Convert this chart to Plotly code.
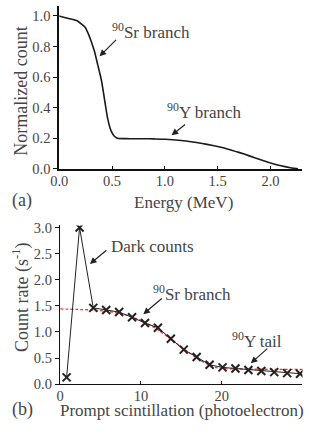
import plotly.graph_objects as go

# ---- Panel (a): beta spectrum ----
energy_mev = [0.0, 0.05, 0.11, 0.17, 0.21, 0.245, 0.275, 0.305, 0.335, 0.365, 0.40, 0.43,
              0.46, 0.49, 0.52, 0.55, 0.63, 0.7, 0.8, 0.9, 1.0, 1.1, 1.2, 1.3, 1.4, 1.5,
              1.6, 1.7, 1.8, 1.9, 2.0, 2.1, 2.2, 2.26]
normalized_count = [1.0, 0.99, 0.98, 0.968, 0.947, 0.926, 0.884, 0.83, 0.766, 0.68, 0.578, 0.45,
                    0.325, 0.25, 0.215, 0.2, 0.198, 0.197, 0.197, 0.196, 0.194, 0.189, 0.182,
                    0.172, 0.16, 0.146, 0.129, 0.108, 0.085, 0.061, 0.039, 0.02, 0.006, 0.0]

# ---- Panel (b): measured count rate ----
pe_bins = [0.8, 2.4, 4.1, 5.7, 7.3, 8.9, 10.5, 12.1, 13.7, 15.3, 16.9, 18.5, 20.1,
           21.7, 23.3, 24.9, 26.5, 28.1, 29.7]
count_rate = [0.13, 3.0, 1.46, 1.42, 1.38, 1.28, 1.17, 1.08, 0.87, 0.66, 0.52, 0.37, 0.32,
              0.30, 0.27, 0.25, 0.23, 0.21, 0.20]

fit_pe = [0, 2, 4, 6, 8, 10, 11, 12, 13, 14, 15, 16, 17, 18, 19, 20, 22, 25, 30]
fit_rate = [1.44, 1.43, 1.42, 1.39, 1.33, 1.22, 1.14, 1.05, 0.94, 0.83, 0.71, 0.60, 0.49,
            0.40, 0.33, 0.30, 0.29, 0.285, 0.28]

W, H = 309, 435
FONT = "Liberation Serif, Times New Roman, serif"
TXT = "#454545"

def px_x(p):
    return p / W

def px_y(p):
    return 1 - p / H

fig = go.Figure()
fig.add_trace(go.Scatter(x=energy_mev, y=normalized_count, mode="lines",
                         line=dict(color="#1a1a1a", width=1.6, shape="spline", smoothing=0.6),
                         xaxis="x", yaxis="y", showlegend=False, hoverinfo="skip"))
fig.add_trace(go.Scatter(x=fit_pe, y=fit_rate, mode="lines",
                         line=dict(color="#ee3b2b", width=1.3, dash="3px,2px", shape="spline"),
                         xaxis="x2", yaxis="y2", showlegend=False, hoverinfo="skip"))
fig.add_trace(go.Scatter(x=pe_bins, y=count_rate, mode="lines+markers",
                         line=dict(color="#222222", width=1),
                         marker=dict(symbol="x-thin", size=8, line=dict(width=2, color="#222222")),
                         xaxis="x2", yaxis="y2", showlegend=False, hoverinfo="skip"))

tickfont = dict(family=FONT, size=14.5, color=TXT)
axis_common = dict(showgrid=False, zeroline=False, showline=True, linecolor="#111111",
                   tickfont=tickfont, tickcolor="#111111", mirror=False)

fig.update_layout(
    width=W, height=H, margin=dict(l=0, r=0, t=0, b=0),
    paper_bgcolor="white", plot_bgcolor="white",
    font=dict(family=FONT, color=TXT, size=17),
    xaxis=dict(domain=[px_x(51.7), px_x(302)], range=[0, 2.3], tickvals=[0, 0.5, 1.0, 1.5, 2.0],
               ticktext=["0.0", "0.5", "1.0", "1.5", "2.0"], ticks="inside", ticklen=3,
               ticklabelstandoff=-2, linewidth=1.8, anchor="y", **axis_common),
    yaxis=dict(domain=[px_y(168.3), 1.0], range=[0, 1.065], tickvals=[0, 0.2, 0.4, 0.6, 0.8, 1.0],
               ticktext=["0.0", "0.2", "0.4", "0.6", "0.8", "1.0"], ticks="outside", ticklen=4,
               linewidth=1.8, anchor="x", **axis_common),
    xaxis2=dict(domain=[px_x(52.7), px_x(302.3)], range=[0, 30], tickvals=[0, 10, 20, 30],
                ticks="inside", ticklen=3, ticklabelstandoff=-2, linewidth=1.3, anchor="y2",
                **axis_common),
    yaxis2=dict(domain=[px_y(390.7), px_y(226.7)], range=[0, 3.04],
                tickvals=[0, 0.5, 1.0, 1.5, 2.0, 2.5, 3.0],
                ticktext=["0.0", "0.5", "1.0", "1.5", "2.0", "2.5", "3.0"], ticks="outside",
                ticklen=4, linewidth=1.3, anchor="x2", **axis_common),
)

def arrow(x, y, ax, ay, xr, yr):
    fig.add_annotation(x=x, y=y, xref=xr, yref=yr, ax=ax, ay=ay, text="", showarrow=True,
                       arrowhead=2, arrowsize=1.1, arrowwidth=1.2, arrowcolor="#222222",
                       standoff=0)

def label(x, y, text, xr, yr, size=17):
    fig.add_annotation(x=x, y=y, xref=xr, yref=yr, text=text, showarrow=False,
                       xanchor="left", yanchor="middle",
                       font=dict(family=FONT, size=size, color=TXT))

# panel (a)
arrow(0.382, 0.736, 18, -18, "x", "y")
label(0.48, 0.90, "<sup>90</sup>Sr branch", "x", "y")
arrow(1.064, 0.22, 15, -12, "x", "y")
label(1.0, 0.38, "<sup>90</sup>Y branch", "x", "y")

# panel (b)
arrow(3.68, 2.30, 18, -15, "x2", "y2")
label(6.0, 2.64, "Dark counts", "x2", "y2")
arrow(10.29, 1.34, 20, -17, "x2", "y2")
label(11.2, 1.75, "<sup>90</sup>Sr branch", "x2", "y2")
arrow(23.6, 0.40, 18, -16, "x2", "y2")
label(21.0, 0.84, "<sup>90</sup>Y tail", "x2", "y2")

# titles and panel letters (paper coordinates)
def ptext(xp, yp, text, angle=0, xanchor="center", size=17):
    fig.add_annotation(x=px_x(xp), y=px_y(yp), xref="paper", yref="paper", text=text,
                       showarrow=False, textangle=angle, xanchor=xanchor, yanchor="middle",
                       font=dict(family=FONT, size=size, color=TXT))

ptext(180, 203, "Energy (MeV)")
ptext(13, 88, "Normalized count", angle=-90, size=18)
ptext(1, 201, "(a)", xanchor="left", size=18)
ptext(178, 418, "Prompt scintillation (photoelectron)")
ptext(13, 301, "Count rate (s<sup>-1</sup>)", angle=-90, size=18)
ptext(1, 417, "(b)", xanchor="left", size=18)

fig.write_html("out.html", config={"displayModeBar": False, "staticPlot": True},
               post_script="document.body.style.margin='0';document.body.style.overflow='hidden';")
